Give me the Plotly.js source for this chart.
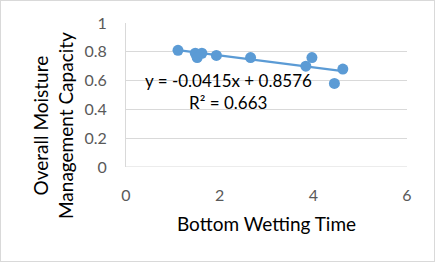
<!DOCTYPE html>
<html><head><meta charset="utf-8">
<script src="https://cdn.plot.ly/plotly-3.0.1.min.js"></script>
<style>
html,body{margin:0;padding:0;background:#fff;}
#wrap{position:relative;width:435px;height:262px;}
#frame{position:absolute;left:0;top:0;width:433px;height:260px;border:1px solid #d9d9d9;pointer-events:none;}
</style>
</head><body>
<div id="wrap"><div id="chart" style="width:435px;height:262px;"></div><div id="frame"></div></div>
<script>
const bottomWettingTime = [1.11, 1.48, 1.52, 1.62, 1.93, 2.66, 3.84, 3.97, 4.45, 4.63];
const overallMMC = [0.81, 0.79, 0.76, 0.79, 0.775, 0.76, 0.70, 0.76, 0.58, 0.68];
const slope = -0.0415, intercept = 0.8576;
const eqText = "y = -0.0415x + 0.8576";
const r2Text = "R² = 0.663";
const xTicks = [0, 2, 4, 6];
const yTicks = [0, 0.2, 0.4, 0.6, 0.8, 1];

const xmin = Math.min(...bottomWettingTime), xmax = Math.max(...bottomWettingTime);
const font = "Lato, 'Open Sans', sans-serif";
const data = [
  {x:[xmin, xmax], y:[slope*xmin+intercept, slope*xmax+intercept], mode:'lines',
   line:{color:'#5b9bd5', width:2.25}, hoverinfo:'skip'},
  {x:bottomWettingTime, y:overallMMC, mode:'markers', type:'scatter',
   marker:{color:'#5b9bd5', size:11}}
];
const layout = {
  width:435, height:262, showlegend:false,
  margin:{l:126, r:28, t:23, b:95},
  paper_bgcolor:'#fff', plot_bgcolor:'#fff',
  font:{family:font},
  xaxis:{range:[0,6], tickvals:xTicks, ticktext:xTicks.map(String), showgrid:false, zeroline:false,
    showline:false, tickfont:{size:16, color:'#595959', family:font}, ticks:'', ticklabelstandoff:17,
    title:{text:'Bottom Wetting Time', font:{size:19, color:'#000', family:font}, standoff:14}},
  yaxis:{range:[0,1], tickvals:yTicks, ticktext:yTicks.map(String), showgrid:true, gridcolor:'#d9d9d9', gridwidth:1,
    zeroline:false, showline:true, linecolor:'#d9d9d9', linewidth:1,
    tickfont:{size:16, color:'#595959', family:font}, ticks:'', ticklabelstandoff:15},
  shapes:[{type:'line', xref:'paper', yref:'y', x0:0, x1:1, y0:0, y1:0, line:{color:'#d9d9d9', width:1}}],
  annotations:[
    {x:2.18, y:0.60, xref:'x', yref:'y', text:eqText, showarrow:false, font:{size:17, color:'#000', family:font}},
    {x:2.18, y:0.445, xref:'x', yref:'y', text:r2Text, showarrow:false, font:{size:17, color:'#000', family:font}},
    {x:0, y:0, xref:'paper', yref:'paper', xanchor:'center', yanchor:'middle',
     text:'Overall Moisture<br>Management Capacity', textangle:-90, showarrow:false,
     font:{size:19, color:'#000', family:font}}
  ]
};
layout.annotations[2].x = (53-126)/281;
layout.annotations[2].y = (167-126)/144;
Plotly.newPlot('chart', data, layout, {staticPlot:true, displayModeBar:false});
</script>
</body></html>
